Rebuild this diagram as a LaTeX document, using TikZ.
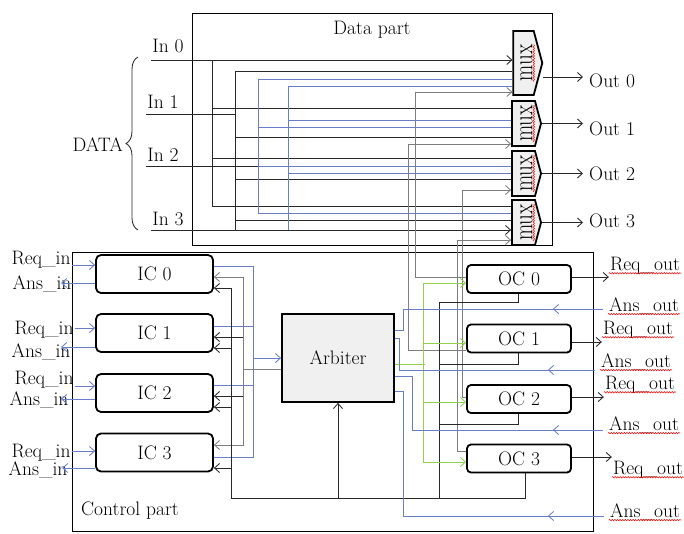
\documentclass[tikz,border=0pt]{standalone}
\usetikzlibrary{arrows.meta,shapes.symbols,decorations.pathreplacing,decorations.pathmorphing}

\definecolor{wiredark}{RGB}{40,40,40}
\definecolor{reqblue}{RGB}{105,125,200}
\definecolor{selgray}{RGB}{125,125,125}
\definecolor{grantgreen}{RGB}{146,208,80}

\tikzset{
    wire/.style={draw=wiredark,line width=0.85pt},
    bluewire/.style={draw=reqblue,line width=0.85pt},
    graywire/.style={draw=selgray,line width=0.85pt},
    greenwire/.style={draw=grantgreen,line width=0.85pt},
    partframe/.style={draw=black,line width=0.9pt},
    lbl/.style={inner sep=1pt},
    icbox/.style={draw,line width=1.8pt,rounded corners=5pt,minimum width=117,
        minimum height=38,inner sep=0pt},
    ocbox/.style={draw,line width=1.8pt,rounded corners=4pt,minimum width=104,
        minimum height=28,inner sep=0pt},
    arbbox/.style={draw,line width=1.8pt,fill=gray!12,minimum width=112,minimum height=88},
    muxbox/.style={signal,signal to=east,signal pointer angle=150,draw,line width=1.8pt,
        fill=gray!12,minimum width=29,minimum height=45,inner sep=0pt},
    muxlbl/.style={rotate=90,yscale=1.3,inner sep=0pt,font=\fontsize{21}{21}\selectfont},
    squig/.style={draw=red,line width=0.5pt,decorate,
        decoration={snake,amplitude=0.7pt,segment length=2.6pt}},
}

\begin{document}
\begin{tikzpicture}[x=1pt,y=-1pt,>={Straight Barb[length=5pt,width=9pt]},
        font=\fontsize{19.5}{22}\selectfont]
    \useasboundingbox (0,0) rectangle (684,533);

    \draw[partframe] (192,13) rectangle (552,245);
    \node (datapart) at (372,30) {Data part};
    \draw[partframe] (72,252) rectangle (593,531);
    \node (ctrlpart) at (130,511) {Control part};

    % multiplexers
    \node[muxbox,minimum height=64] (mux0) at (523.5,63) {};
    \node[muxbox] (mux1) at (523.5,123.5) {};
    \node[muxbox] (mux2) at (523.5,173.5) {};
    \node[muxbox] (mux3) at (523.5,222.5) {};
    \node[muxlbl] (mt0) at (526.5,63) {mux};
    \node[muxlbl] (mt1) at (526.5,123.5) {mux};
    \node[muxlbl] (mt2) at (526.5,173.5) {mux};
    \node[muxlbl] (mt3) at (526.5,222.5) {mux};
    \draw[squig] ([xshift=1.5pt]mt0.base west) -- ([xshift=1.5pt]mt0.base east);
    \draw[squig] ([xshift=1.5pt]mt1.base west) -- ([xshift=1.5pt]mt1.base east);
    \draw[squig] ([xshift=1.5pt]mt2.base west) -- ([xshift=1.5pt]mt2.base east);
    \draw[squig] ([xshift=1.5pt]mt3.base west) -- ([xshift=1.5pt]mt3.base east);

    \node[lbl,inner xsep=6pt,anchor=west] (out0) at (583,81) {Out 0};
    \node[lbl,inner xsep=6pt,anchor=west] (out1) at (583,129) {Out 1};
    \node[lbl,inner xsep=6pt,anchor=west] (out2) at (583,174) {Out 2};
    \node[lbl,inner xsep=6pt,anchor=west] (out3) at (583,221) {Out 3};
    \draw[wire,->] (mux0.east |- 0,77) -- (out0.west |- 0,77);
    \draw[wire,->] (mux1.east) -- (out1.west |- mux1.east);
    \draw[wire,->] (mux2.east) -- (out2.west |- mux2.east);
    \draw[wire,->] (mux3.east) -- (out3.west |- mux3.east);

    % data inputs
    \node[lbl,anchor=east] (data) at (124,145) {DATA};
    \draw[wire,decorate,decoration={brace,amplitude=12pt}] (138,230) -- (138,57);
    \node[lbl] (in0) at (168,46) {In 0};
    \node[lbl] (in1) at (163,102) {In 1};
    \node[lbl] (in2) at (163,155) {In 2};
    \node[lbl] (in3) at (168,219) {In 3};

    \draw[wire,->] (in0.west |- 0,60) -- (mux0.west |- 0,60);
    \draw[wire] (212,60) |- (mux3.west |- 0,206);
    \draw[wire] (212,108) -- (mux1.west |- 0,108);
    \draw[wire] (212,158) -- (mux2.west |- 0,158);

    \draw[wire] (in1.west |- 0,114) -- (235,114);
    \draw[wire] (235,230) |- (mux0.west |- 0,71);
    \draw[wire] (235,137) -- (mux1.west |- 0,137);
    \draw[wire] (235,179) -- (mux2.west |- 0,179);
    \draw[wire] (235,220) -- (mux3.west |- 0,220);

    \draw[wire] (in2.west |- 0,166) -- (258,166);
    \draw[bluewire] (mux0.west |- 0,79) -| (258,213) -- (mux3.west |- 0,213);
    \draw[bluewire] (258,127) -- (mux1.west |- 0,127);
    \draw[bluewire] (258,166) -- (mux2.west |- 0,166);

    \draw[wire,->] (in3.west |- 0,230) -- (mux3.west |- 0,230);
    \draw[bluewire] (mux0.west |- 0,86) -| (288,230);
    \draw[bluewire] (288,120) -- (mux1.west |- 0,120);
    \draw[bluewire] (288,173) -- (mux2.west |- 0,173);

    % input and output controllers
    \node[icbox] (ic0) at (154.5,274) {IC 0};
    \node[icbox] (ic1) at (154.5,333) {IC 1};
    \node[icbox] (ic2) at (154.5,393) {IC 2};
    \node[icbox] (ic3) at (154.5,452.5) {IC 3};
    \node[ocbox] (oc0) at (519,279) {OC 0};
    \node[ocbox] (oc1) at (519,338.5) {OC 1};
    \node[ocbox] (oc2) at (519,399) {OC 2};
    \node[ocbox] (oc3) at (519,458.5) {OC 3};
    \node[arbbox] (arb) at (338,358) {Arbiter};

    % select lines
    \draw[graywire,->] (oc0.west |- 0,277) -| (415,92) -- (mux0.west |- 0,92);
    \draw[graywire,->] (oc1.west |- 0,350) -| (408,144) -- (mux1.west |- 0,144);
    \draw[graywire,->] (oc2.west |- 0,397) -| (462,190) -- (mux2.west |- 0,190);
    \draw[graywire,->] (oc3.west |- 0,451) -| (457,240) -- (mux3.west |- 0,240);

    % requests and answers at the inputs
    \node[lbl] (rq0) at (41,260) {Req\_in};
    \node[lbl] (an0) at (42,284) {Ans\_in};
    \node[lbl] (rq1) at (44,330) {Req\_in};
    \node[lbl] (an1) at (41,352) {Ans\_in};
    \node[lbl] (rq2) at (44,380) {Req\_in};
    \node[lbl] (an2) at (39,400) {Ans\_in};
    \node[lbl] (rq3) at (41,453) {Req\_in};
    \node[lbl] (an3) at (38,470) {Ans\_in};
    \draw[bluewire,->] (rq0.east |- 0,265) -- (ic0.west |- 0,265);
    \draw[bluewire,->] (rq1.east |- 0,328) -- (ic1.west |- 0,328);
    \draw[bluewire,->] (rq2.east |- 0,386) -- (ic2.west |- 0,386);
    \draw[bluewire,->] (rq3.east |- 0,451) -- (ic3.west |- 0,451);
    \draw[bluewire,->] (ic0.west |- 0,283) -- ++(-34,0);
    \draw[bluewire,->] (ic1.west |- 0,347) -- ++(-34,0);
    \draw[bluewire,->] (ic2.west |- 0,399) -- ++(-34,0);
    \draw[bluewire,->] (ic3.west |- 0,468) -- ++(-33,0);

    % requests to the arbiter
    \draw[bluewire] (ic0.east |- 0,266) -| (253,457) -- (ic3.east |- 0,457);
    \draw[bluewire] (ic1.east |- 0,326) -- (253,326);
    \draw[bluewire] (ic2.east |- 0,385) -- (253,385);
    \draw[bluewire,->] (253,358) -- (arb.west |- 0,358);

    \draw[graywire] (arb.west |- 0,369) -- (243,369);
    \draw[graywire,<->] (ic3.east |- 0,445) -| (243,277) -- (ic0.east |- 0,277);
    \draw[wire,->] (243,337) -- (ic1.east |- 0,337);
    \draw[wire,->] (243,396) -- (ic2.east |- 0,396);

    % answers from the output controllers
    \draw[wire,->] (oc3.south -| 525,0) |- (231,498) |- (ic0.east |- 0,288);
    \draw[wire,->] (231,348) -- (ic1.east |- 0,348);
    \draw[wire,->] (231,407) -- (ic2.east |- 0,407);
    \draw[wire,->] (231,468) -- (ic3.east |- 0,468);
    \draw[wire,->] (arb.south |- 0,498) -- (arb.south);
    \draw[wire] (439,498) |- (518,302) -- (oc0.south -| 518,0);
    \draw[wire] (439,364) -| (oc1.south -| 518,0);
    \draw[wire] (439,424) -| (oc2.south -| 518,0);

    % grants
    \draw[greenwire] (arb.east |- 0,364) -- (425,364);
    \draw[greenwire,<->] (oc0.west |- 0,283) -| (423,462) -- (oc3.west |- 0,462);
    \draw[greenwire,->] (423,343) -- (oc1.west |- 0,343);
    \draw[greenwire,->] (423,402) -- (oc2.west |- 0,402);

    % requests and answers at the outputs
    \node[lbl] (ro0) at (645,266) {Req\_out};
    \node[lbl] (ro1) at (638,330) {Req\_out};
    \node[lbl] (ro2) at (640,385) {Req\_out};
    \node[lbl] (ro3) at (648,470) {Req\_out};
    \draw[wire,->] (oc0.east |- 0,277) -- (ro0.west |- 0,277);
    \draw[wire,->] (oc1.east |- 0,342) -- (ro1.west |- 0,342);
    \draw[wire,->] (oc2.east |- 0,397) -- (ro2.west |- 0,397);
    \draw[wire,->] (oc3.east |- 0,457) -- (ro3.west |- 0,457);

    \node[lbl,inner xsep=6pt] (ao0) at (644,306) {Ans\_out};
    \node[lbl,inner xsep=6pt] (ao1) at (636,362) {Ans\_out};
    \node[lbl,inner xsep=6pt] (ao2) at (644,425) {Ans\_out};
    \node[lbl,inner xsep=6pt] (ao3) at (645,512) {Ans\_out};
    \draw[bluewire] (arb.east |- 0,330) -| (403,309) -- (ao0.west |- 0,309);
    \draw[bluewire] (arb.east |- 0,338) -| (399,370) -- (ao1.west |- 0,370);
    \draw[bluewire] (arb.east |- 0,376) -| (412,430) -- (ao2.west |- 0,430);
    \draw[bluewire] (arb.east |- 0,391) -| (403,516) -- (ao3.west |- 0,516);
    \draw[bluewire,->] (ao0.west |- 0,309) -- ++(-50,0);
    \draw[bluewire,->] (ao1.west |- 0,370) -- ++(-47,0);
    \draw[bluewire,->] (ao2.west |- 0,430) -- ++(-50,0);
    \draw[bluewire,->] (ao3.west |- 0,516) -- ++(-56,0);

    \draw[squig] ([yshift=-2.5pt]ro0.base west) -- ([yshift=-2.5pt]ro0.base east);
    \draw[squig] ([yshift=-2.5pt]ro1.base west) -- ([yshift=-2.5pt]ro1.base east);
    \draw[squig] ([yshift=-2.5pt]ro2.base west) -- ([yshift=-2.5pt]ro2.base east);
    \draw[squig] ([yshift=-2.5pt]ro3.base west) -- ([yshift=-2.5pt]ro3.base east);
    \draw[squig] ([xshift=5pt,yshift=-2.5pt]ao0.base west) -- ([xshift=-5pt,yshift=-2.5pt]ao0.base east);
    \draw[squig] ([xshift=5pt,yshift=-2.5pt]ao1.base west) -- ([xshift=-5pt,yshift=-2.5pt]ao1.base east);
    \draw[squig] ([xshift=5pt,yshift=-2.5pt]ao2.base west) -- ([xshift=-5pt,yshift=-2.5pt]ao2.base east);
    \draw[squig] ([xshift=5pt,yshift=-2.5pt]ao3.base west) -- ([xshift=-5pt,yshift=-2.5pt]ao3.base east);
\end{tikzpicture}
\end{document}
